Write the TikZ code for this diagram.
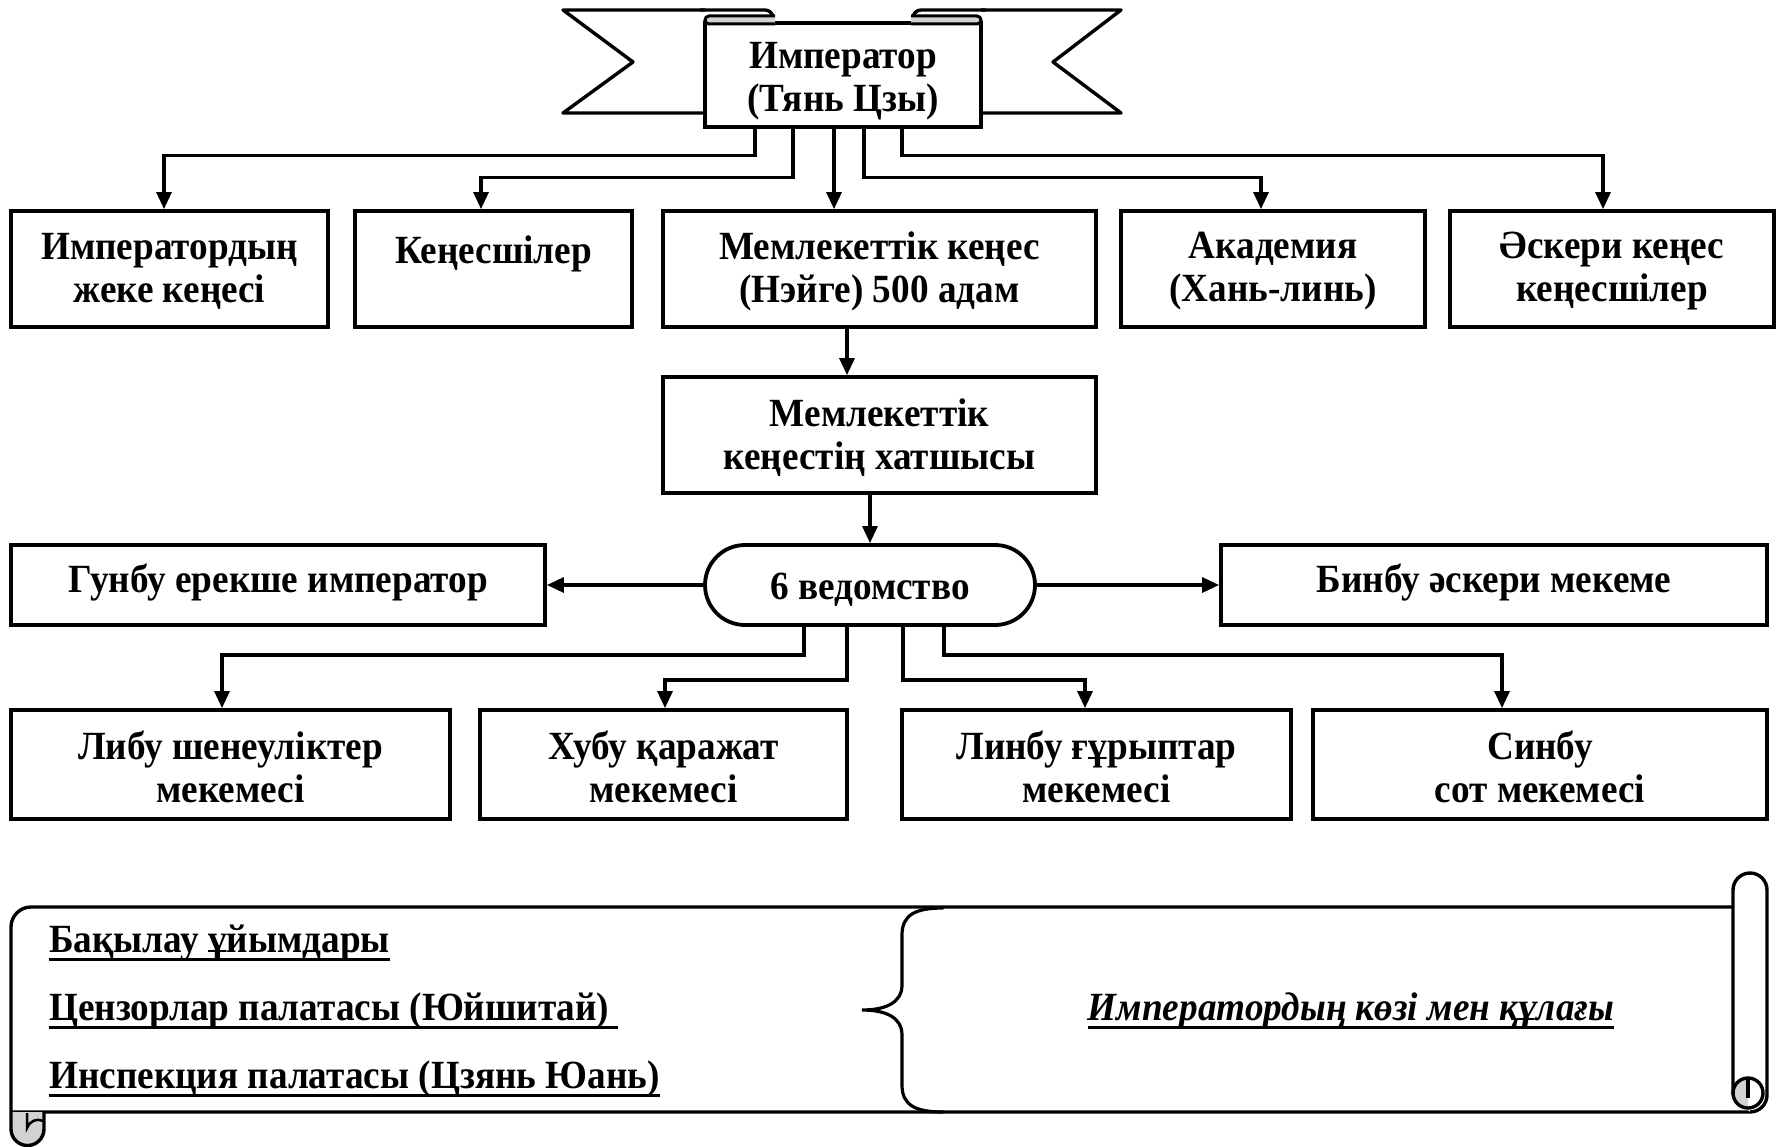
\documentclass[tikz,border=0pt]{standalone}
\usepackage{fontspec}
\setmainfont{Liberation Serif}[FakeStretch=0.93]
\usetikzlibrary{arrows.meta}
\newcommand{\dfont}{\fontsize{40}{43}\selectfont\bfseries}
\begin{document}
\begin{tikzpicture}[x=1pt,y=1pt,
  box/.style={draw, line width=3.8pt, fill=white, inner sep=0pt},
  txt/.style={align=center, inner sep=0pt, font=\dfont},
  sd/.style={execute at begin node={\rule[-#1]{0pt}{1pt}}},
  conn/.style={line width=3.2pt, -{Triangle[length=17pt,width=15pt]}},
  outl/.style={line width=3.4pt, line join=round},
  fold/.style={line width=3pt, fill=gray!35},
  lbl/.style={anchor=base west, inner sep=0pt, font=\dfont},
  uln/.style={line width=3pt}]
\useasboundingbox[fill=white] (0,0) rectangle (1776,-1147);

% ---------- banner ----------
\draw[outl, fill=white] (705,-10) -- (563,-10) -- (633,-62) -- (563,-113) -- (705,-113);
\draw[outl, fill=white] (981,-10) -- (1121,-10) -- (1053,-62) -- (1121,-113) -- (981,-113);
\draw[outl] (700,-10) -- (765,-10) arc[start angle=90,end angle=0,radius=8] -- (773,-20);
\draw[outl] (986,-10) -- (921,-10) arc[start angle=90,end angle=180,radius=8] -- (913,-20);
\node[box, minimum width=276pt, minimum height=104pt] (emp) at (843,-75) {};
\node[txt] (empt) at ([yshift=-6pt]emp.center) {Император\\(Тянь Цзы)};
\draw[fold] (775,-16) -- (709,-16) arc[start angle=90,end angle=270,radius=4] -- (775,-24);
\draw[fold] (911,-16) -- (977,-16) arc[start angle=90,end angle=-90,radius=4] -- (911,-24);

% ---------- row 1 ----------
\node[box, minimum width=317pt, minimum height=116pt] (b1) at (169.5,-269) {};
\node[box, minimum width=277pt, minimum height=116pt] (b2) at (493.5,-269) {};
\node[box, minimum width=433pt, minimum height=116pt] (b3) at (879.5,-269) {};
\node[box, minimum width=304pt, minimum height=116pt] (b4) at (1273,-269) {};
\node[box, minimum width=324pt, minimum height=116pt] (b5) at (1612,-269) {};
\node[txt] (b1t) at ([yshift=-2.5pt]b1.center) {Императордың\\жеке кеңесі};
\node[txt] (b2t) at ([yshift=-2.5pt]b2.center) {Кеңесшілер\\\mbox{}};
\node[txt] (b3t) at ([yshift=-2.5pt]b3.center) {Мемлекеттік кеңес\\(Нэйге) 500 адам};
\node[txt] (b4t) at ([yshift=-2.5pt]b4.center) {Академия\\(Хань-линь)};
\node[txt] (b5t) at ([yshift=-2.5pt]b5.center) {Әскери кеңес\\кеңесшілер};

\draw[conn] ([xshift=-88pt]emp.south) -- ++(0,-27) -| ([xshift=-5.5pt]b1.north);
\draw[conn] ([xshift=-50pt]emp.south) -- ++(0,-49) -| ([xshift=-12.5pt]b2.north);
\draw[conn] ([xshift=-9pt]emp.south) -- ([xshift=-45.5pt]b3.north);
\draw[conn] ([xshift=21pt]emp.south) -- ++(0,-49) -| ([xshift=-12pt]b4.north);
\draw[conn] ([xshift=59pt]emp.south) -- ++(0,-27) -| ([xshift=-9pt]b5.north);

% ---------- secretary ----------
\node[box, minimum width=433pt, minimum height=116pt] (sec) at (879.5,-435) {};
\node[txt] (sect) at ([yshift=-2.5pt]sec.center) {Мемлекеттік\\кеңестің хатшысы};
\draw[conn] ([xshift=-32.5pt]b3.south) -- ([xshift=-32.5pt]sec.north);

% ---------- 6 ведомство row ----------
\node[box, minimum width=330pt, minimum height=80pt, rounded corners=40pt] (stad) at (870,-585) {};
\node[txt] (stadt) at ([yshift=-5pt]stad.center) {6 ведомство};
\node[box, minimum width=534pt, minimum height=80pt] (gun) at (278,-585) {};
\node[txt] (gunt) at ([yshift=3pt]gun.center) {Гунбу ерекше император};
\node[box, minimum width=546pt, minimum height=80pt] (bin) at (1494,-585) {};
\node[txt] (bint) at ([yshift=3pt]bin.center) {Бинбу әскери мекеме};
\draw[conn] (sec.south -| stad.north) -- (stad.north);
\draw[conn] (stad.west) -- (gun.east);
\draw[conn] (stad.east) -- (bin.west);

% ---------- bottom row ----------
\node[box, minimum width=439pt, minimum height=109pt] (libu) at (230.5,-764.5) {};
\node[box, minimum width=367pt, minimum height=109pt] (hubu) at (663.5,-764.5) {};
\node[box, minimum width=389pt, minimum height=109pt] (linbu) at (1096.5,-764.5) {};
\node[box, minimum width=454pt, minimum height=109pt] (sinbu) at (1540,-764.5) {};
\node[txt] (libut) at ([yshift=-2.5pt]libu.center) {Либу шенеуліктер\\мекемесі};
\node[txt] (hubut) at ([yshift=-2.5pt]hubu.center) {Хубу қаражат\\мекемесі};
\node[txt] (linbut) at ([yshift=-2.5pt]linbu.center) {Линбу ғұрыптар\\мекемесі};
\node[txt] (sinbut) at ([yshift=-2.5pt]sinbu.center) {Синбу\\сот мекемесі};

\draw[conn] ([xshift=-66pt]stad.south) -- ++(0,-28) -| ([xshift=-8.5pt]libu.north);
\draw[conn] ([xshift=-23pt]stad.south) -- ++(0,-53) -| ([xshift=1.5pt]hubu.north);
\draw[conn] ([xshift=33pt]stad.south) -- ++(0,-53) -| ([xshift=-11.5pt]linbu.north);
\draw[conn] ([xshift=74pt]stad.south) -- ++(0,-28) -| ([xshift=-38pt]sinbu.north);

% ---------- scroll ----------
\draw[outl, fill=white] (1745,-907) -- (31,-907) arc[start angle=90,end angle=180,radius=20] -- (11,-1112) -- (1750,-1112);
\draw[outl, fill=white] (1733,-1095) -- (1733,-890) arc[start angle=180,end angle=0,radius=17] -- (1767,-1095) arc[start angle=0,end angle=-90,radius=17];
\fill[gray!35] (1748,-1078) arc[start angle=90,end angle=270,radius=15] -- cycle;
\draw[outl] (1748,-1093) circle[radius=15];
\draw[outl] (1748,-1078) -- (1748,-1098);
\draw[outl, fill=gray!35] (11,-1112) -- (11,-1129) arc[start angle=180,end angle=360,radius=16.5] -- (44,-1112);
\draw[line width=2.5pt] (27,-1113) -- (27,-1128) .. controls (30,-1121) and (36,-1118) .. (43,-1121);

\draw[line width=3.2pt, line cap=round] (943,-908) .. controls (915,-908) and (902,-915) .. (902,-935) -- (902,-985) .. controls (902,-1003) and (885,-1010) .. (862,-1010) .. controls (885,-1010) and (902,-1017) .. (902,-1035) -- (902,-1085) .. controls (902,-1105) and (915,-1112) .. (943,-1112);

\node[lbl] (t1) at (49,-952) {Бақылау ұйымдары};
\node[lbl] (t2) at (49,-1020) {Цензорлар палатасы (Юйшитай)};
\node[lbl] (t3) at (49,-1088) {Инспекция палатасы (Цзянь Юань)};
\node[anchor=base, inner sep=0pt, font=\dfont\itshape] (t4) at (1351,-1020) {Императордың көзі мен құлағы};
\draw[uln] ([yshift=-7pt]t1.base west) -- ([yshift=-7pt]t1.base east);
\draw[uln] ([yshift=-7pt]t2.base west) -- ([yshift=-7pt,xshift=8pt]t2.base east);
\draw[uln] ([yshift=-7pt]t3.base west) -- ([yshift=-7pt]t3.base east);
\draw[uln] ([yshift=-7pt]t4.base west) -- ([yshift=-7pt]t4.base east);
\end{tikzpicture}
\end{document}
